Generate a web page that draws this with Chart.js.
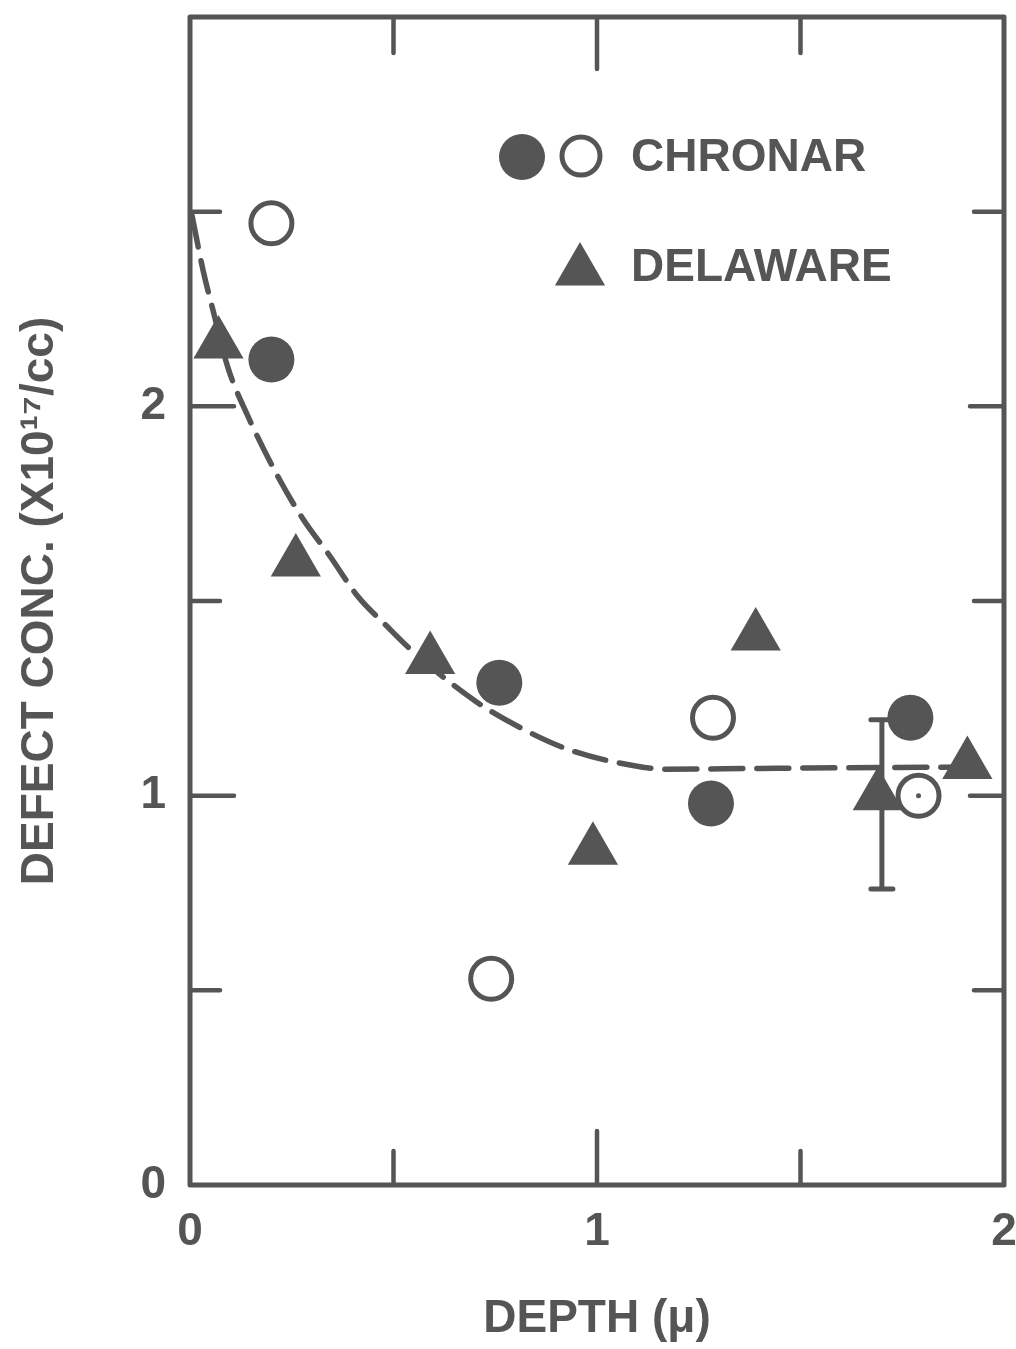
<!DOCTYPE html>
<html><head><meta charset="utf-8">
<script src="https://cdn.jsdelivr.net/npm/chart.js@4.4.1/dist/chart.umd.min.js"></script>
<style>html,body{margin:0;padding:0;background:#fff;}#wrap{width:1016px;height:1349px;}</style>
</head><body><div id="wrap"><canvas id="c" width="1016" height="1349"></canvas></div>
<script>
// ---- data ----
const chronarFilledX = [0.20, 0.76, 1.28, 1.77];
const chronarFilledY = [2.12, 1.29, 0.98, 1.20];
const chronarOpenX = [0.20, 0.74, 1.285, 1.79];
const chronarOpenY = [2.47, 0.53, 1.20, 1.00];
const delawareX = [0.07, 0.26, 0.59, 0.99, 1.39, 1.69, 1.91];
const delawareY = [2.16, 1.60, 1.35, 0.86, 1.41, 1.00, 1.08];
const errorBarX = [1.70];
const errorBarLow = [0.76];
const errorBarHigh = [1.195];
const dotX = [1.79];
const dotY = [1.00];
const fitX = [0.005, 0.032, 0.057, 0.093, 0.140, 0.221, 0.278, 0.344, 0.410, 0.484, 0.548, 0.705, 0.811, 0.926, 1.049, 1.172, 1.40, 1.95];
const fitY = [2.49, 2.35, 2.245, 2.10, 1.98, 1.81, 1.71, 1.615, 1.515, 1.435, 1.37, 1.24, 1.175, 1.12, 1.085, 1.068, 1.07, 1.074];
const xTicks = [0, 0.5, 1, 1.5, 2];
const xTickLabels = ['0', '', '1', '', '2'];
const yTicks = [0, 0.5, 1, 1.5, 2, 2.5, 3];
const yTickLabels = ['0', '', '1', '', '2', '', ''];
const legendLabels = ['CHRONAR', 'DELAWARE'];
const xTitle = 'DEPTH (\u03BC)';
const yTitle = 'DEFECT CONC. (X10\u00B9\u2077/cc)';

const INK = '#555555';
const FONT = "'Liberation Sans', Arial, sans-serif";
const pts = (xs, ys) => xs.map((v, i) => ({x: v, y: ys[i]}));
const noPad = s => { s.paddingTop = 0; s.paddingBottom = 0; s.paddingLeft = 0; s.paddingRight = 0; };

const framePlugin = {
  id: 'frame',
  beforeDatasetsDraw(chart) {
    const {ctx, scales: {x, y}} = chart;
    ctx.save();
    ctx.strokeStyle = INK; ctx.lineWidth = 5; ctx.lineCap = 'round';
    errorBarX.forEach((v, i) => {
      const px = x.getPixelForValue(v);
      const y1 = y.getPixelForValue(errorBarLow[i]);
      const y2 = y.getPixelForValue(errorBarHigh[i]);
      ctx.beginPath();
      ctx.moveTo(px, y1); ctx.lineTo(px, y2);
      ctx.moveTo(px - 11, y1); ctx.lineTo(px + 11, y1);
      ctx.moveTo(px - 11, y2); ctx.lineTo(px + 11, y2);
      ctx.stroke();
    });
    ctx.restore();
  },
  afterDraw(chart) {
    const {ctx, chartArea: a, scales: {x, y}} = chart;
    ctx.save();
    ctx.strokeStyle = INK; ctx.lineJoin = 'round'; ctx.lineCap = 'round';
    ctx.lineWidth = 5;
    ctx.strokeRect(a.left, a.top, a.right - a.left, a.bottom - a.top);
    ctx.lineWidth = 4.5;
    ctx.beginPath();
    xTicks.forEach((v, i) => {
      if (v <= x.min || v >= x.max) return;
      const px = x.getPixelForValue(v);
      const major = xTickLabels[i] !== '';
      ctx.moveTo(px, a.bottom); ctx.lineTo(px, a.bottom - (major ? 54 : 34));
      ctx.moveTo(px, a.top); ctx.lineTo(px, a.top + (major ? 52 : 36));
    });
    yTicks.forEach((v, i) => {
      if (v <= y.min || v >= y.max) return;
      const py = y.getPixelForValue(v);
      const major = yTickLabels[i] !== '';
      ctx.moveTo(a.left, py); ctx.lineTo(a.left + (major ? 44 : 30), py);
      ctx.moveTo(a.right, py); ctx.lineTo(a.right - (major ? 34 : 30), py);
    });
    ctx.stroke();
    // legend
    ctx.fillStyle = INK;
    ctx.beginPath(); ctx.arc(522, 157, 23, 0, Math.PI * 2); ctx.fill();
    ctx.lineWidth = 5;
    ctx.beginPath(); ctx.arc(581, 156, 19, 0, Math.PI * 2); ctx.stroke();
    const r = 29, cx = 580, cy = 271;
    ctx.beginPath();
    ctx.moveTo(cx, cy - r);
    ctx.lineTo(cx + r * Math.sin(2 * Math.PI / 3), cy - r * Math.cos(2 * Math.PI / 3));
    ctx.lineTo(cx + r * Math.sin(4 * Math.PI / 3), cy - r * Math.cos(4 * Math.PI / 3));
    ctx.closePath(); ctx.fill();
    ctx.font = 'bold 46px ' + FONT;
    ctx.textBaseline = 'middle'; ctx.textAlign = 'left';
    ctx.fillText(legendLabels[0], 631, 158);
    ctx.fillText(legendLabels[1], 631, 268);
    ctx.restore();
  }
};

new Chart(document.getElementById('c'), {
  type: 'scatter',
  data: {
    datasets: [
      {label: 'fit', type: 'line', data: pts(fitX, fitY), borderColor: INK, borderWidth: 5.5,
       borderDash: [32, 14], borderCapStyle: 'round', pointRadius: 0, cubicInterpolationMode: 'monotone',
       fill: false, order: 6},
      {label: legendLabels[1], data: pts(delawareX, delawareY), pointStyle: 'triangle', pointRadius: 29,
       backgroundColor: INK, borderColor: INK, borderWidth: 0, order: 4},
      {label: legendLabels[0] + ' filled', data: pts(chronarFilledX, chronarFilledY), pointStyle: 'circle',
       pointRadius: 23, backgroundColor: INK, borderColor: INK, borderWidth: 0, order: 3},
      {label: legendLabels[0] + ' open', data: pts(chronarOpenX, chronarOpenY), pointStyle: 'circle',
       pointRadius: 20.5, backgroundColor: '#ffffff', borderColor: INK, borderWidth: 5, order: 2},
      {label: 'dot', data: pts(dotX, dotY), pointStyle: 'circle', pointRadius: 2.5,
       backgroundColor: INK, borderColor: INK, borderWidth: 0, order: 1}
    ]
  },
  options: {
    responsive: false, animation: false, devicePixelRatio: 1,
    layout: {autoPadding: false, padding: {top: 17, right: 12, left: 0, bottom: 0}},
    plugins: {legend: {display: false}, tooltip: {enabled: false}},
    elements: {point: {hoverRadius: 0}},
    scales: {
      x: {
        type: 'linear', min: 0, max: 2,
        grid: {display: false, drawTicks: false}, border: {display: false},
        afterBuildTicks: s => { s.ticks = xTicks.map(v => ({value: v})); },
        afterFit: s => { s.height = 164; noPad(s); },
        ticks: {color: INK, font: {family: FONT, size: 46, weight: 'bold'}, padding: 20, autoSkip: false, maxRotation: 0,
                callback: (v, i) => xTickLabels[i]},
        title: {display: true, text: xTitle, color: INK, font: {family: FONT, size: 46, weight: 'bold'}, padding: {top: 0, bottom: 2}}
      },
      y: {
        type: 'linear', min: 0, max: 3,
        grid: {display: false, drawTicks: false}, border: {display: false},
        afterBuildTicks: s => { s.ticks = yTicks.map(v => ({value: v})); },
        afterFit: s => { s.width = 190; noPad(s); },
        ticks: {color: INK, font: {family: FONT, size: 46, weight: 'bold'}, padding: 24, autoSkip: false,
                callback: (v, i) => yTickLabels[i]},
        title: {display: true, text: yTitle, color: INK, font: {family: FONT, size: 46, weight: 'bold'}, padding: {top: 13, bottom: 0}}
      }
    }
  },
  plugins: [framePlugin]
});
</script></body></html>
